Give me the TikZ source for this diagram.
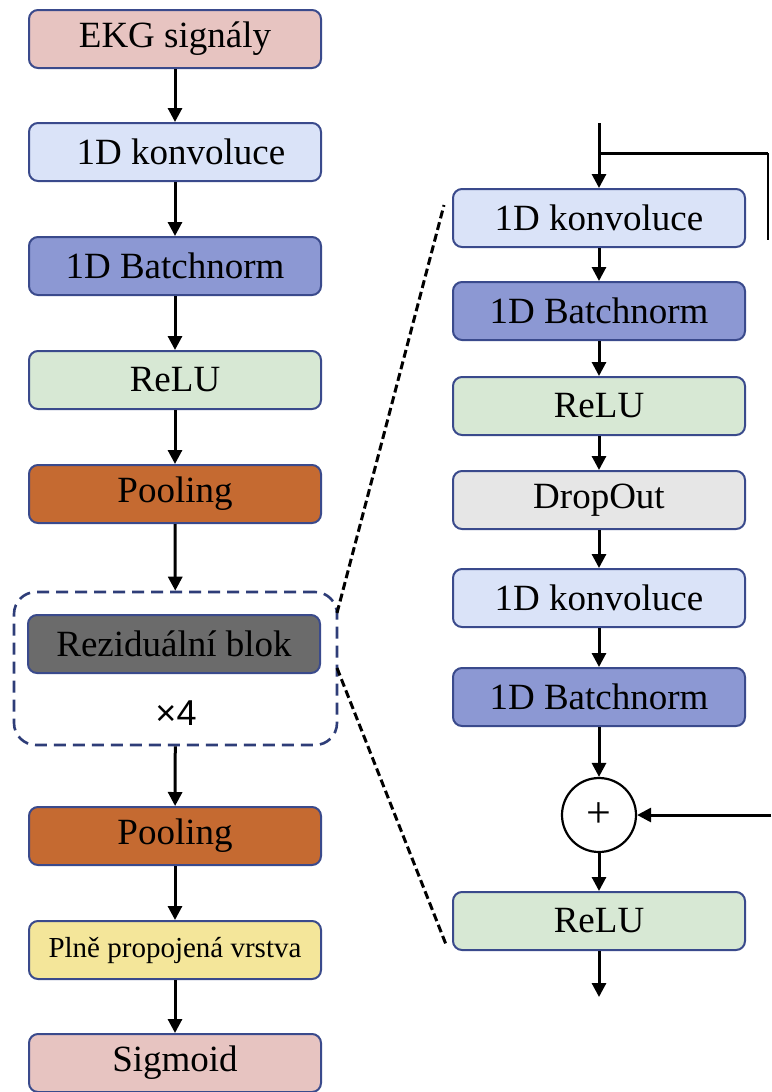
\documentclass[tikz,border=0pt]{standalone}
\usepackage{fontspec}
\setmainfont{Liberation Serif}
\newfontfamily\sansx{Liberation Sans}
\usetikzlibrary{arrows.meta}
\definecolor{cpink}{HTML}{E7C4C1}
\definecolor{cconv}{HTML}{DAE3F8}
\definecolor{cbn}{HTML}{8C98D3}
\definecolor{crelu}{HTML}{D7E8D4}
\definecolor{cpool}{HTML}{C56A31}
\definecolor{cres}{HTML}{6B6B6B}
\definecolor{cfc}{HTML}{F4E69A}
\definecolor{cdrop}{HTML}{E6E6E6}
\definecolor{cborder}{HTML}{3A4A8C}
\definecolor{cdash}{HTML}{2E3D78}
\tikzset{
  blk/.style={draw=cborder, line width=2pt, rounded corners=9pt,
    minimum width=292pt, minimum height=58pt, inner sep=0pt,
    font=\fontsize{37}{40}\selectfont, text=black},
  arr/.style={line width=3pt, -{Triangle[length=14pt,width=14pt]}},
  link/.style={line width=3pt},
  zoomline/.style={line width=3pt, dash pattern=on 8pt off 4pt},
}
\begin{document}
\begin{tikzpicture}[x=1pt,y=-1pt]
\useasboundingbox[fill=white] (0,0) rectangle (771,1092);
% left column
\node[blk, fill=cpink] (ekg) at (175,39) {EKG signály};
\node[blk, fill=cconv] (conv) at (175,152) {\hspace{12pt}1D konvoluce};
\node[blk, fill=cbn] (bn) at (175,266) {1D Batchnorm};
\node[blk, fill=crelu] (relu) at (175,380) {ReLU};
\node[blk, fill=cpool] (pool) at (175,494) {Pooling};
\node[draw=cdash, line width=2.6pt, dash pattern=on 12pt off 7pt, rounded corners=22pt,
  minimum width=323pt, minimum height=153pt, inner sep=0pt] (rbox) at (175.5,668.5) {};
\node[blk, fill=cres] (res) at (174,644) {Reziduální blok};
\node[font=\sansx\fontsize{36}{38}\selectfont] (times) at (176,713) {×4};
\node[blk, fill=cpool] (pool2) at (175,836) {Pooling};
\node[blk, fill=cfc, font=\fontsize{29}{32}\selectfont] (fc) at (175,950) {Plně propojená vrstva};
\node[blk, fill=cpink] (sig) at (175,1063) {Sigmoid};
\draw[arr] (ekg) -- (conv);
\draw[arr] (conv) -- (bn);
\draw[arr] (bn) -- (relu);
\draw[arr] (relu) -- (pool);
\draw[arr] (pool) -- (rbox);
\draw[arr] (rbox) -- (pool2);
\draw[arr] (pool2) -- (fc);
\draw[arr] (fc) -- (sig);
% right column
\node[blk, fill=cconv] (rc1) at (599,218) {1D konvoluce};
\node[blk, fill=cbn] (rb1) at (599,311) {1D Batchnorm};
\node[blk, fill=crelu] (rr1) at (599,406) {ReLU};
\node[blk, fill=cdrop] (rd) at (599,500) {DropOut};
\node[blk, fill=cconv] (rc2) at (599,598) {1D konvoluce};
\node[blk, fill=cbn] (rb2) at (599,697) {1D Batchnorm};
\node[draw=black, line width=2.2pt, circle, minimum size=74pt, inner sep=0pt,
  font=\fontsize{44}{46}\selectfont] (plus) at (599,815) {+};
\node[blk, fill=crelu] (rr2) at (599,921) {ReLU};
\coordinate (rtop) at (599,123);
\coordinate (rsplit) at (599,153);
\coordinate (rcorner) at (768,153);
\coordinate (rdown) at (768,240);
\coordinate (addin) at (771,815);
\coordinate (rout) at (599,997);
\draw[arr] (rtop) -- (rc1);
\draw[link] (rsplit) -- (rcorner);
\draw[line width=1.4pt] (rcorner) -- (rdown);
\draw[arr] (rc1) -- (rb1);
\draw[arr] (rb1) -- (rr1);
\draw[arr] (rr1) -- (rd);
\draw[arr] (rd) -- (rc2);
\draw[arr] (rc2) -- (rb2);
\draw[arr] (rb2) -- (plus);
\draw[arr] (addin) -- (plus);
\draw[arr] (plus) -- (rr2);
\draw[arr] (rr2) -- (rout);
% zoom lines
\coordinate (z1a) at (337,613);
\coordinate (z1b) at (444,205);
\coordinate (z2a) at (337,668);
\coordinate (z2b) at (447,947);
\draw[zoomline] (z1a) -- (z1b);
\draw[zoomline] (z2a) -- (z2b);
\end{tikzpicture}
\end{document}
